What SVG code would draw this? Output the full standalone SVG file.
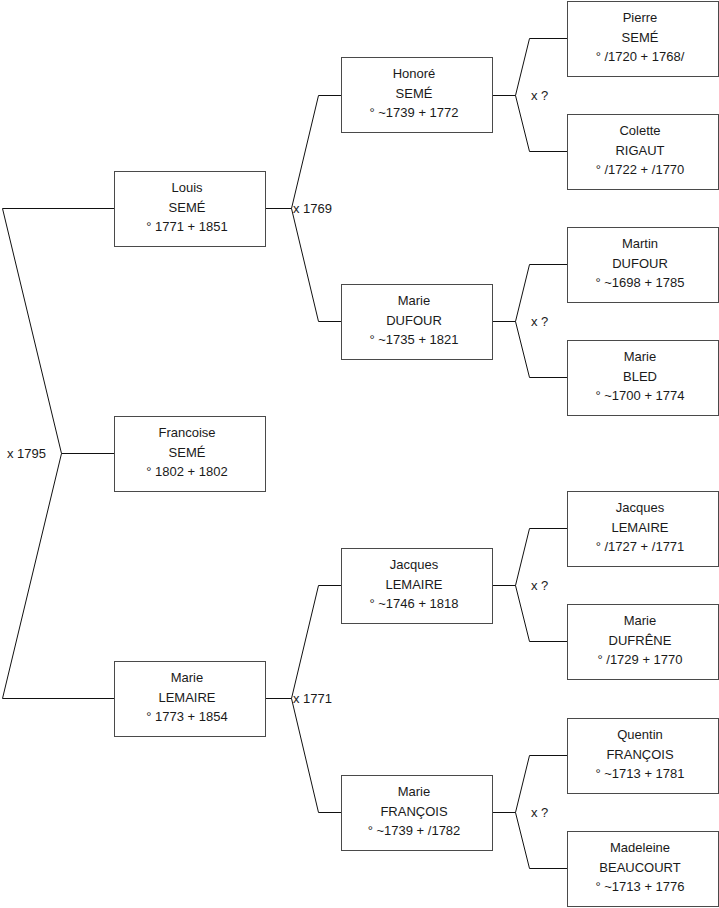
<svg xmlns="http://www.w3.org/2000/svg" width="719" height="908" viewBox="0 0 719 908">
<style>
.box{fill:#fff;stroke:#4a4a4a;stroke-width:1}
text{font-family:"Liberation Sans",Arial,sans-serif;font-size:13px;fill:#1a1a1a}
.c{text-anchor:middle}
.ln{fill:none;stroke:#111;stroke-width:1}
</style>
<rect width="719" height="908" fill="#fff"/>
<g id="connectors">
<polyline class="ln" points="114,208.5 2.5,208.5 61.5,453.5 2.5,698.5 114,698.5"/>
<line class="ln" x1="61.5" y1="453.5" x2="114" y2="453.5"/>
<line class="ln" x1="265" y1="208.5" x2="291.5" y2="208.5"/>
<polyline class="ln" points="341,95.5 318.5,95.5 291.5,208.5 318.5,321.5 341,321.5"/>
<line class="ln" x1="265" y1="698.5" x2="291.5" y2="698.5"/>
<polyline class="ln" points="341,585.5 318.5,585.5 291.5,698.5 318.5,812.5 341,812.5"/>
<line class="ln" x1="492" y1="95.5" x2="515.5" y2="95.5"/>
<polyline class="ln" points="567,38.5 529.5,38.5 515.5,95.5 529.5,151.5 567,151.5"/>
<line class="ln" x1="492" y1="321.5" x2="515.5" y2="321.5"/>
<polyline class="ln" points="567,264.5 529.5,264.5 515.5,321.5 529.5,377.5 567,377.5"/>
<line class="ln" x1="492" y1="585.5" x2="515.5" y2="585.5"/>
<polyline class="ln" points="567,528.5 529.5,528.5 515.5,585.5 529.5,641.5 567,641.5"/>
<line class="ln" x1="492" y1="812.5" x2="515.5" y2="812.5"/>
<polyline class="ln" points="567,755.5 529.5,755.5 515.5,812.5 529.5,868.5 567,868.5"/>
<text x="7" y="457.5">x 1795</text>
<text x="293" y="212.5">x 1769</text>
<text x="293" y="702.5">x 1771</text>
<text x="531" y="99.5">x ?</text>
<text x="531" y="325.5">x ?</text>
<text x="531" y="589.5">x ?</text>
<text x="531" y="816.5">x ?</text>
</g>
<g id="louis"><rect class="box" x="114.5" y="171.5" width="151" height="75"/>
<text class="c" x="187" y="191.5">Louis</text><text class="c" x="187" y="211.5">SEMÉ</text><text class="c" x="187" y="231">° 1771 + 1851</text></g>
<g id="francoise"><rect class="box" x="114.5" y="416.5" width="151" height="75"/>
<text class="c" x="187" y="436.5">Francoise</text><text class="c" x="187" y="456.5">SEMÉ</text><text class="c" x="187" y="476">° 1802 + 1802</text></g>
<g id="marie-lemaire"><rect class="box" x="114.5" y="661.5" width="151" height="75"/>
<text class="c" x="187" y="681.5">Marie</text><text class="c" x="187" y="701.5">LEMAIRE</text><text class="c" x="187" y="721">° 1773 + 1854</text></g>
<g id="honore"><rect class="box" x="341.5" y="57.5" width="151" height="75"/>
<text class="c" x="414" y="77.5">Honoré</text><text class="c" x="414" y="97.5">SEMÉ</text><text class="c" x="414" y="117">° ~1739 + 1772</text></g>
<g id="marie-dufour"><rect class="box" x="341.5" y="284.5" width="151" height="75"/>
<text class="c" x="414" y="304.5">Marie</text><text class="c" x="414" y="324.5">DUFOUR</text><text class="c" x="414" y="344">° ~1735 + 1821</text></g>
<g id="jacques-lemaire"><rect class="box" x="341.5" y="548.5" width="151" height="75"/>
<text class="c" x="414" y="568.5">Jacques</text><text class="c" x="414" y="588.5">LEMAIRE</text><text class="c" x="414" y="608">° ~1746 + 1818</text></g>
<g id="marie-francois"><rect class="box" x="341.5" y="775.5" width="151" height="75"/>
<text class="c" x="414" y="795.5">Marie</text><text class="c" x="414" y="815.5">FRANÇOIS</text><text class="c" x="414" y="835">° ~1739 + /1782</text></g>
<g id="pierre"><rect class="box" x="567.5" y="1.5" width="151" height="75"/>
<text class="c" x="640" y="21.5">Pierre</text><text class="c" x="640" y="41.5">SEMÉ</text><text class="c" x="640" y="61">° /1720 + 1768/</text></g>
<g id="colette"><rect class="box" x="567.5" y="114.5" width="151" height="75"/>
<text class="c" x="640" y="134.5">Colette</text><text class="c" x="640" y="154.5">RIGAUT</text><text class="c" x="640" y="174">° /1722 + /1770</text></g>
<g id="martin"><rect class="box" x="567.5" y="227.5" width="151" height="75"/>
<text class="c" x="640" y="247.5">Martin</text><text class="c" x="640" y="267.5">DUFOUR</text><text class="c" x="640" y="287">° ~1698 + 1785</text></g>
<g id="marie-bled"><rect class="box" x="567.5" y="340.5" width="151" height="75"/>
<text class="c" x="640" y="360.5">Marie</text><text class="c" x="640" y="380.5">BLED</text><text class="c" x="640" y="400">° ~1700 + 1774</text></g>
<g id="jacques-lemaire-sr"><rect class="box" x="567.5" y="491.5" width="151" height="75"/>
<text class="c" x="640" y="511.5">Jacques</text><text class="c" x="640" y="531.5">LEMAIRE</text><text class="c" x="640" y="551">° /1727 + /1771</text></g>
<g id="marie-dufrene"><rect class="box" x="567.5" y="604.5" width="151" height="75"/>
<text class="c" x="640" y="624.5">Marie</text><text class="c" x="640" y="644.5">DUFRÊNE</text><text class="c" x="640" y="664">° /1729 + 1770</text></g>
<g id="quentin"><rect class="box" x="567.5" y="718.5" width="151" height="75"/>
<text class="c" x="640" y="738.5">Quentin</text><text class="c" x="640" y="758.5">FRANÇOIS</text><text class="c" x="640" y="778">° ~1713 + 1781</text></g>
<g id="madeleine"><rect class="box" x="567.5" y="831.5" width="151" height="75"/>
<text class="c" x="640" y="851.5">Madeleine</text><text class="c" x="640" y="871.5">BEAUCOURT</text><text class="c" x="640" y="891">° ~1713 + 1776</text></g>
</svg>
